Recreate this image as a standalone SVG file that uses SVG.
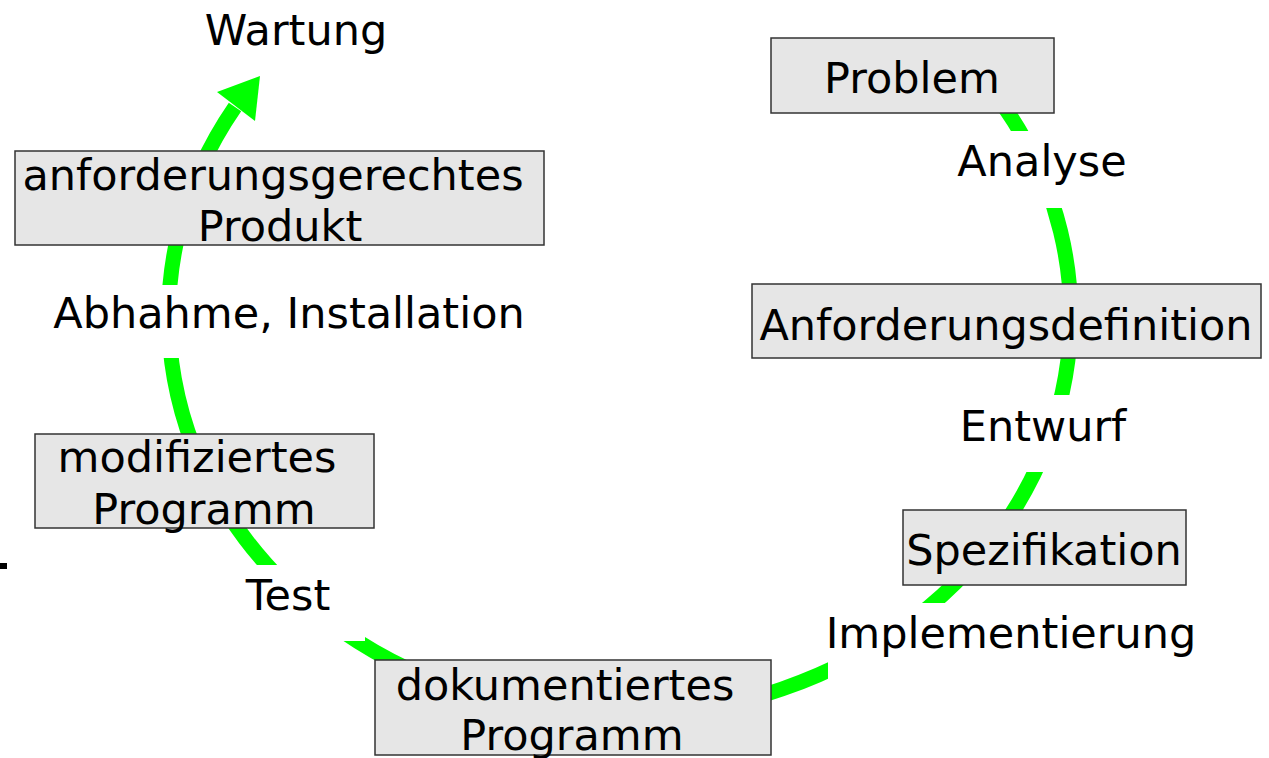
<svg xmlns="http://www.w3.org/2000/svg" width="1269" height="758" viewBox="0 0 1269 758">
  <style>
    .box { fill: #e6e6e6; stroke: #333333; stroke-width: 1.5; }
    .txt { font-family: "DejaVu Sans", Verdana, sans-serif; font-size: 43px; fill: #000000; text-anchor: middle; }
    .gap { fill: #ffffff; stroke: none; }
    .cycle { fill: none; stroke: #00ff00; stroke-width: 15; }
  </style>
  <rect width="1269" height="758" fill="#ffffff"/>

  <!-- cycle arrow running clockwise from Problem round to Wartung -->
  <g id="connectors">
    <path class="cycle" d="M 1003 105 A 451 400 0 1 1 235 107"/>
    <polygon points="260,76 255,121 217,92" fill="#00ff00"/>
  </g>

  <!-- phase labels, each on a white ground that interrupts the arc -->
  <g id="label-wartung">
    <text class="txt" x="296" y="45">Wartung</text>
  </g>
  <g id="label-analyse">
    <rect class="gap" x="950" y="131" width="185" height="77"/>
    <text class="txt" x="1042" y="176">Analyse</text>
  </g>
  <g id="label-entwurf">
    <rect class="gap" x="950" y="395" width="185" height="77"/>
    <text class="txt" x="1043" y="441">Entwurf</text>
  </g>
  <g id="label-implementierung">
    <rect class="gap" x="828" y="603" width="375" height="90"/>
    <text class="txt" x="1011" y="648">Implementierung</text>
  </g>
  <g id="label-test">
    <rect class="gap" x="225" y="565" width="140" height="76"/>
    <text class="txt" x="288" y="610">Test</text>
  </g>
  <g id="label-abnahme">
    <rect class="gap" x="45" y="285" width="490" height="73"/>
    <text class="txt" x="289" y="328">Abhahme, Installation</text>
  </g>

  <!-- result boxes -->
  <g id="node-problem">
    <rect class="box" x="771" y="38" width="283" height="75"/>
    <text class="txt" x="912" y="93">Problem</text>
  </g>
  <g id="node-anforderungsdefinition">
    <rect class="box" x="752" y="284" width="509" height="74"/>
    <text class="txt" x="1006" y="340">Anforderungsdefinition</text>
  </g>
  <g id="node-spezifikation">
    <rect class="box" x="903" y="510" width="283" height="75"/>
    <text class="txt" x="1044" y="565">Spezifikation</text>
  </g>
  <g id="node-dokumentiertes-programm">
    <rect class="box" x="375" y="660" width="396" height="95"/>
    <text class="txt" x="565" y="700">dokumentiertes</text>
    <text class="txt" x="572" y="750">Programm</text>
  </g>
  <g id="node-modifiziertes-programm">
    <rect class="box" x="35" y="434" width="339" height="94"/>
    <text class="txt" x="197" y="472">modifiziertes</text>
    <text class="txt" x="204" y="524">Programm</text>
  </g>
  <g id="node-anforderungsgerechtes-produkt">
    <rect class="box" x="15" y="151" width="529" height="94"/>
    <text class="txt" x="273" y="190">anforderungsgerechtes</text>
    <text class="txt" x="280" y="241">Produkt</text>
  </g>

  <!-- small mark at the left edge -->
  <rect x="0" y="563" width="7" height="6" fill="#000000"/>
</svg>
